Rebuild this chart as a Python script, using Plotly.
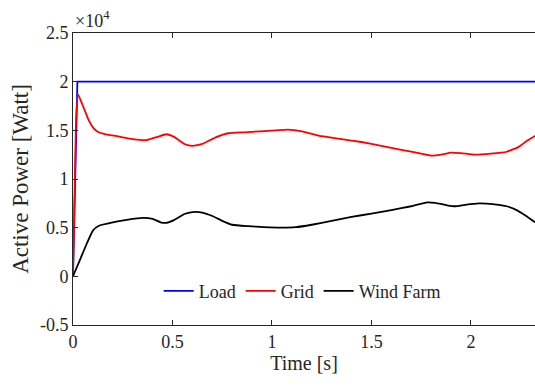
import plotly.graph_objects as go

# Time axes [s] and active power [W] for each source
load_t = [0.0, 0.022, 2.40]
load_p = [0, 20000, 20000]

grid_t = [0.0, 0.015, 0.025, 0.04, 0.06, 0.08, 0.10, 0.12, 0.16, 0.22, 0.30, 0.37,
          0.42, 0.47, 0.51, 0.56, 0.60, 0.65, 0.72, 0.78, 0.86, 0.94, 1.02, 1.08,
          1.15, 1.25, 1.35, 1.45, 1.55, 1.65, 1.75, 1.80, 1.85, 1.90, 1.95, 2.02,
          2.10, 2.18, 2.24, 2.28, 2.32, 2.35]
grid_p = [0, 16000, 18700, 18000, 17000, 16000, 15300, 14900, 14600, 14400, 14100, 14000,
          14300, 14600, 14300, 13600, 13400, 13600, 14300, 14700, 14800, 14900, 15000, 15080,
          14900, 14400, 14100, 13800, 13400, 13000, 12600, 12400, 12500, 12700, 12650, 12500,
          12600, 12800, 13300, 13900, 14400, 14700]

wind_t = [0.0, 0.01, 0.035, 0.07, 0.10, 0.13, 0.20, 0.27, 0.35, 0.40, 0.44, 0.47,
          0.51, 0.56, 0.60, 0.65, 0.70, 0.75, 0.80, 0.88, 0.96, 1.05, 1.12, 1.20,
          1.30, 1.40, 1.50, 1.60, 1.70, 1.78, 1.82, 1.88, 1.92, 1.97, 2.04, 2.12,
          2.18, 2.23, 2.27, 2.32, 2.35]
wind_p = [0, 500, 1700, 3400, 4700, 5200, 5550, 5800, 6000, 5900, 5550, 5500,
          5800, 6400, 6600, 6550, 6200, 5700, 5300, 5150, 5050, 5000, 5050, 5300,
          5700, 6100, 6450, 6800, 7200, 7600, 7550, 7300, 7200, 7350, 7500, 7400,
          7200, 6800, 6300, 5600, 5200]

y_ticks = [-5000, 0, 5000, 10000, 15000, 20000, 25000]
y_tick_text = ["-0.5", "0", "0.5", "1", "1.5", "2", "2.5"]
x_ticks = [0, 0.5, 1, 1.5, 2]
x_tick_text = ["0", "0.5", "1", "1.5", "2"]

serif = "Liberation Serif"
ink = "#262626"

fig = go.Figure()
fig.add_trace(go.Scatter(x=load_t, y=load_p, mode="lines", name="Load",
                         line=dict(color="#0000ff", width=1.8)))
fig.add_trace(go.Scatter(x=grid_t, y=grid_p, mode="lines", name="Grid",
                         line=dict(color="#ff0000", width=1.8, shape="spline", smoothing=0.4)))
fig.add_trace(go.Scatter(x=wind_t, y=wind_p, mode="lines", name="Wind Farm",
                         line=dict(color="#000000", width=1.8, shape="spline", smoothing=0.4)))

fig.update_layout(
    width=535, height=386,
    margin=dict(l=73, r=0, t=33, b=61),
    paper_bgcolor="white", plot_bgcolor="white",
    font=dict(family=serif, size=17, color=ink),
    showlegend=True,
    legend=dict(orientation="h", x=0.496, y=0.116, xanchor="center", yanchor="middle",
                bgcolor="rgba(0,0,0,0)", font=dict(family=serif, size=18, color=ink),
                itemwidth=30, tracegroupgap=0),
    xaxis=dict(range=[0, 2.322], tickvals=x_ticks, ticktext=x_tick_text,
               tickfont=dict(family=serif, size=18, color=ink),
               showgrid=False, zeroline=False, showline=True, linecolor=ink,
               linewidth=1, mirror="ticks", ticks="inside", ticklen=5,
               tickcolor=ink,
               title=dict(text="Time [s]", standoff=3, font=dict(family=serif, size=20, color=ink))),
    yaxis=dict(range=[-5000, 25000], tickvals=y_ticks, ticktext=y_tick_text,
               tickfont=dict(family=serif, size=18, color=ink),
               showgrid=False, zeroline=False, showline=True, linecolor=ink,
               linewidth=1, mirror=False, ticks="inside", ticklen=5,
               tickcolor=ink,
               title=dict(text="Active Power [Watt]", standoff=4, font=dict(family=serif, size=23, color=ink))),
    annotations=[dict(text="×10<sup>4</sup>", xref="paper", yref="paper",
                      x=0.0, y=1.0, xanchor="left", yanchor="bottom", showarrow=False,
                      font=dict(family=serif, size=18, color=ink))],
)

fig.write_html("out.html")
